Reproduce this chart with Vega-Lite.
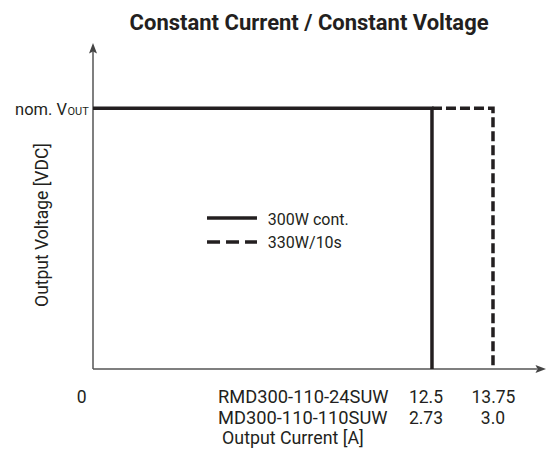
{
  "$schema": "https://vega.github.io/schema/vega-lite/v6.json",
  "autosize": "none",
  "width": 453,
  "height": 326,
  "padding": {"left": 93, "top": 43, "right": 3, "bottom": 90},
  "background": "white",
  "config": {"view": {"stroke": null}},
  "datasets": {
    "curves": [
      {"series": "300W cont.", "order": 1, "x": 0, "y": 80},
      {"series": "300W cont.", "order": 2, "x": 74.83, "y": 80},
      {"series": "300W cont.", "order": 3, "x": 74.83, "y": 0},
      {"series": "330W/10s", "order": 1, "x": 74.83, "y": 80},
      {"series": "330W/10s", "order": 2, "x": 88.3, "y": 80},
      {"series": "330W/10s", "order": 3, "x": 88.3, "y": 0}
    ],
    "axes": [
      {"axis": "y", "x": 0, "y": 0, "x2": 0, "y2": 97.5},
      {"axis": "x", "x": 0, "y": 0, "x2": 98, "y2": 0}
    ],
    "arrows": [
      {"axis": "y", "x": 0, "y": 100},
      {"axis": "x", "x": 100, "y": 0}
    ],
    "title": [{"x": 47.7, "y": 104.0, "text": "Constant Current / Constant Voltage"}],
    "ticks": [
      {"x": -2.5, "y": -10.43, "text": "0"},
      {"x": 73.5, "y": -10.43, "text": "12.5"},
      {"x": 88.4, "y": -10.43, "text": "13.75"},
      {"x": 73.5, "y": -16.87, "text": "2.73"},
      {"x": 88.3, "y": -16.87, "text": "3.0"}
    ],
    "models": [
      {"x": 27.6, "y": -10.43, "text": "RMD300-110-24SUW"},
      {"x": 27.6, "y": -16.87, "text": "MD300-110-110SUW"}
    ],
    "xTitle": [{"x": 28.5, "y": -23.1, "text": "Output Current [A]"}],
    "legendLines": [
      {"series": "300W cont.", "x": 25.17, "x2": 36.2, "y": 46.3},
      {"series": "330W/10s", "x": 25.17, "x2": 36.2, "y": 38.96}
    ],
    "legendText": [
      {"x": 38.6, "y": 44.17, "text": "300W cont."},
      {"x": 38.6, "y": 37.1, "text": "330W/10s"}
    ],
    "yTitle": [{"x": -9.93, "y": 44.17, "text": "Output Voltage [VDC]"}],
    "nom": [{"x": -5.74, "y": 77.9, "text": "nom. V"}],
    "nomSub": [{"x": -5.63, "y": 77.9, "text": "OUT"}]
  },
  "layer": [
    {
      "data": {"name": "axes"},
      "mark": {"type": "rule", "color": "#555555", "strokeWidth": 1.5},
      "encoding": {
        "x": {"field": "x", "type": "quantitative", "scale": {"domain": [0, 100]}, "axis": null},
        "y": {"field": "y", "type": "quantitative", "scale": {"domain": [0, 100]}, "axis": null},
        "x2": {"field": "x2"},
        "y2": {"field": "y2"}
      }
    },
    {
      "data": {"name": "arrows"},
      "mark": {"type": "point", "filled": true, "opacity": 1, "size": 100, "color": "#444444"},
      "encoding": {
        "x": {"field": "x", "type": "quantitative"},
        "y": {"field": "y", "type": "quantitative"},
        "shape": {
          "field": "axis",
          "type": "nominal",
          "scale": {"domain": ["y", "x"], "range": ["M0,0L0.8,2.1L0,1.7L-0.8,2.1Z", "M0,0L-2.1,-0.8L-1.7,0L-2.1,0.8Z"]},
          "legend": null
        }
      }
    },
    {
      "data": {"name": "curves"},
      "mark": {"type": "line", "color": "#231f20", "strokeWidth": 3.5, "strokeCap": "butt", "strokeJoin": "miter"},
      "encoding": {
        "x": {"field": "x", "type": "quantitative"},
        "y": {"field": "y", "type": "quantitative"},
        "order": {"field": "order", "type": "quantitative"},
        "detail": {"field": "series", "type": "nominal"},
        "strokeDash": {
          "field": "series",
          "type": "nominal",
          "scale": {"domain": ["300W cont.", "330W/10s"], "range": [[1, 0], [10, 4]]},
          "legend": null
        }
      }
    },
    {
      "data": {"name": "legendLines"},
      "mark": {"type": "rule", "color": "#231f20", "strokeWidth": 3.5, "strokeCap": "butt"},
      "encoding": {
        "x": {"field": "x", "type": "quantitative"},
        "x2": {"field": "x2"},
        "y": {"field": "y", "type": "quantitative"},
        "strokeDash": {
          "field": "series",
          "type": "nominal",
          "scale": {"domain": ["300W cont.", "330W/10s"], "range": [[1, 0], [13, 6]]},
          "legend": null
        }
      }
    },
    {
      "data": {"name": "title"},
      "mark": {"type": "text", "align": "center", "baseline": "alphabetic", "fontSize": 22, "fontWeight": "bold", "font": "Roboto", "color": "#231f20"},
      "encoding": {
        "x": {"field": "x", "type": "quantitative"},
        "y": {"field": "y", "type": "quantitative"},
        "text": {"field": "text"}
      }
    },
    {
      "data": {"name": "ticks"},
      "mark": {"type": "text", "align": "center", "baseline": "alphabetic", "fontSize": 17.5, "font": "Roboto", "color": "#231f20"},
      "encoding": {
        "x": {"field": "x", "type": "quantitative"},
        "y": {"field": "y", "type": "quantitative"},
        "text": {"field": "text"}
      }
    },
    {
      "data": {"name": "models"},
      "mark": {"type": "text", "align": "left", "baseline": "alphabetic", "fontSize": 18.3, "font": "Roboto", "color": "#231f20"},
      "encoding": {
        "x": {"field": "x", "type": "quantitative"},
        "y": {"field": "y", "type": "quantitative"},
        "text": {"field": "text"}
      }
    },
    {
      "data": {"name": "xTitle"},
      "mark": {"type": "text", "align": "left", "baseline": "alphabetic", "fontSize": 17.8, "font": "Roboto", "color": "#231f20"},
      "encoding": {
        "x": {"field": "x", "type": "quantitative"},
        "y": {"field": "y", "type": "quantitative"},
        "text": {"field": "text"}
      }
    },
    {
      "data": {"name": "legendText"},
      "mark": {"type": "text", "align": "left", "baseline": "alphabetic", "fontSize": 16, "font": "Roboto", "color": "#231f20"},
      "encoding": {
        "x": {"field": "x", "type": "quantitative"},
        "y": {"field": "y", "type": "quantitative"},
        "text": {"field": "text"}
      }
    },
    {
      "data": {"name": "yTitle"},
      "mark": {"type": "text", "align": "center", "baseline": "alphabetic", "angle": 270, "fontSize": 17.5, "font": "Roboto", "color": "#231f20"},
      "encoding": {
        "x": {"field": "x", "type": "quantitative"},
        "y": {"field": "y", "type": "quantitative"},
        "text": {"field": "text"}
      }
    },
    {
      "data": {"name": "nom"},
      "mark": {"type": "text", "align": "right", "baseline": "alphabetic", "fontSize": 16.5, "font": "Roboto", "color": "#231f20"},
      "encoding": {
        "x": {"field": "x", "type": "quantitative"},
        "y": {"field": "y", "type": "quantitative"},
        "text": {"field": "text"}
      }
    },
    {
      "data": {"name": "nomSub"},
      "mark": {"type": "text", "align": "left", "baseline": "alphabetic", "fontSize": 11, "font": "Roboto", "color": "#231f20"},
      "encoding": {
        "x": {"field": "x", "type": "quantitative"},
        "y": {"field": "y", "type": "quantitative"},
        "text": {"field": "text"}
      }
    }
  ],
  "resolve": {"scale": {"strokeDash": "independent", "shape": "independent"}}
}
